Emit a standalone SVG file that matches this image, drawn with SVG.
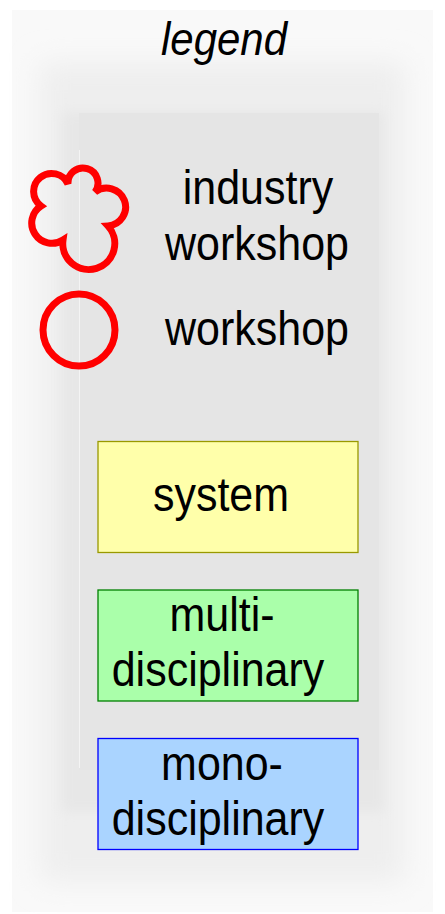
<svg xmlns="http://www.w3.org/2000/svg" width="445" height="914" viewBox="0 0 445 914">
<defs>
<filter id="soft" x="-20%" y="-20%" width="140%" height="140%"><feGaussianBlur stdDeviation="14"/></filter>
<filter id="soft2" x="-20%" y="-20%" width="140%" height="140%"><feGaussianBlur stdDeviation="6"/></filter>
</defs>
<style>
text{font-family:"Liberation Sans",Arial,sans-serif;fill:#000;text-anchor:middle}
.lbl{font-size:43px}
.box{stroke-width:1.3}
.red{fill:none;stroke:#ff0000;stroke-width:7}
</style>
<rect width="445" height="914" fill="#ffffff"/>
<g id="frame">
<rect x="12" y="10" width="421" height="902" fill="#f9f9f9"/>
<rect x="40" y="62" width="365" height="820" fill="#eeeeee" filter="url(#soft)"/>
<rect x="62" y="112" width="322" height="700" fill="#e7e7e7" filter="url(#soft2)"/>
<rect x="79" y="113" width="300" height="657" fill="#e5e5e5"/>
<line x1="79.5" y1="150" x2="79.5" y2="768" stroke="#f4f4f4" stroke-width="1"/>
</g>
<text transform="translate(224,55) scale(1,1.1)" style="font-size:42px;font-style:italic">legend</text>
<g id="industry-workshop">
<path class="red" d="M68,184 A15,15 0 1 1 95,192 A19,19 0 1 1 108,226 A26,26 0 1 1 63,240 A20,20 0 1 1 41,206 A18,18 0 1 1 68,184 Z"/>
<text class="lbl" transform="translate(258,204) scale(1,1.12)">industry</text>
<text class="lbl" transform="translate(257,260) scale(1,1.12)">workshop</text>
</g>
<g id="workshop">
<circle class="red" cx="79" cy="330" r="36"/>
<text class="lbl" transform="translate(257,345) scale(1,1.12)">workshop</text>
</g>
<g id="system">
<rect class="box" x="98" y="441.5" width="260" height="111" fill="#ffffaa" stroke="#999900"/>
<text class="lbl" transform="translate(221,511) scale(1,1.12)">system</text>
</g>
<g id="multi">
<rect class="box" x="98" y="590" width="260" height="111" fill="#aaffaa" stroke="#008000"/>
<text class="lbl" transform="translate(222,631) scale(1,1.12)">multi-</text>
<text class="lbl" transform="translate(218,686) scale(1,1.12)">disciplinary</text>
</g>
<g id="mono">
<rect class="box" x="98" y="738.5" width="260" height="111" fill="#aad4ff" stroke="#0000ff"/>
<text class="lbl" transform="translate(222,780) scale(1,1.12)">mono-</text>
<text class="lbl" transform="translate(218,835) scale(1,1.12)">disciplinary</text>
</g>
<g id="connectors"/>
</svg>
